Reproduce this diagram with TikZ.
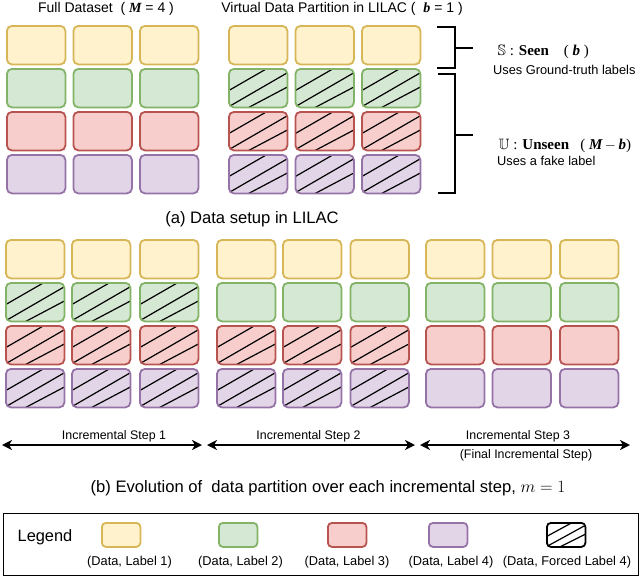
\documentclass[tikz,border=0pt]{standalone}
\usepackage{amssymb}
\usepackage{fontspec}
\setmainfont{Liberation Sans}
\newfontfamily\serf{Liberation Serif}
\usetikzlibrary{calc,arrows.meta}
\definecolor{fy}{HTML}{FFF2CC}\definecolor{dy}{HTML}{D6B656}
\definecolor{fg}{HTML}{D5E8D4}\definecolor{dg}{HTML}{82B366}
\definecolor{fr}{HTML}{F8CECC}\definecolor{dr}{HTML}{B85450}
\definecolor{fp}{HTML}{E1D5E7}\definecolor{dp}{HTML}{9673A6}
\tikzset{
  cell/.style={rectangle, rounded corners=5pt, anchor=north west, inner sep=0pt,
    minimum width=58.5pt, minimum height=38.5pt, line width=1.8pt},
  cy/.style={fill=fy, draw=dy}, cg/.style={fill=fg, draw=dg},
  cr/.style={fill=fr, draw=dr}, cp/.style={fill=fp, draw=dp},
  hatch/.style={path picture={
    \coordinate (hsw) at (path picture bounding box.south west);
    \coordinate (hse) at (path picture bounding box.south east);
    \coordinate (hnw) at (path picture bounding box.north west);
    \coordinate (hne) at (path picture bounding box.north east);
    \draw[black, line width=1.2pt]
      ($(hsw)!0.44!(hnw)$) -- ($(hnw)!0.64!(hne)$)
      ($(hsw)!0.02!(hnw)$) -- ($(hse)!0.90!(hne)$)
      ($(hsw)!0.34!(hse)$) -- ($(hse)!0.53!(hne)$);
  }},
  lcell/.style={rectangle, rounded corners=4pt, anchor=north west, inner sep=0pt,
    minimum width=38.5pt, minimum height=24pt, line width=1.8pt},
  bracket/.style={line width=1.3pt, black},
  steparrow/.style={line width=1.9pt, {Stealth[length=10pt,width=10pt,inset=3pt]}-{Stealth[length=10pt,width=10pt,inset=3pt]}},
  ttltxt/.style={anchor=base, inner sep=0pt, font=\fontsize{14}{16}\selectfont},
  captxt/.style={anchor=base, inner sep=0pt, font=\fontsize{16.6}{19}\selectfont},
  smalltxt/.style={anchor=base, inner sep=0pt, font=\fontsize{12.4}{14}\selectfont},
  legtxt/.style={anchor=base, inner sep=0pt, font=\fontsize{12.8}{14}\selectfont},
}
\begin{document}
\begin{tikzpicture}[x=1pt,y=-1pt]
\useasboundingbox (0,0) rectangle (640,576);
% titles
\node[ttltxt] (t1) at (106,12.7) {Full Dataset~~( {\serf\bfseries\itshape M} = 4 )};
\node[ttltxt] (t2) at (342,12.7) {Virtual Data Partition in LILAC (~ {\serf\bfseries\itshape b} = 1 )};
% (a) full dataset
\foreach \y/\c [count=\r] in {25/cy,68/cg,111/cr,154/cp}{
  \foreach \x [count=\k] in {6,72.5,139}{
    \node[cell,\c] (fa-\r-\k) at (\x,\y) {};
  }
}
% (a) virtual partition
\foreach \x [count=\k] in {228,294.5,361}{
  \node[cell,cy] (va-1-\k) at (\x,25) {};
  \node[cell,cg,hatch] (va-2-\k) at (\x,68) {};
  \node[cell,cr,hatch] (va-3-\k) at (\x,111) {};
  \node[cell,cp,hatch] (va-4-\k) at (\x,154) {};
}
% brackets
\coordinate (ba1) at (437,27); \coordinate (ba2) at (455,27);
\coordinate (ba3) at (455,68); \coordinate (ba4) at (437,68);
\coordinate (bam) at (455,48); \coordinate (bat) at (473,48);
\draw[bracket] (ba1) -- (ba2) -- (ba3) -- (ba4);
\draw[bracket] (bam) -- (bat);
\coordinate (bb1) at (438,74); \coordinate (bb2) at (455,74);
\coordinate (bb3) at (455,193); \coordinate (bb4) at (438,193);
\coordinate (bbm) at (455,135); \coordinate (bbt) at (473,135);
\draw[bracket] (bb1) -- (bb2) -- (bb3) -- (bb4);
\draw[bracket] (bbm) -- (bbt);
\node[anchor=base west, inner sep=0pt, font=\serf\fontsize{15}{17}\selectfont] (seen) at (497.5,55)
  {$\mathbb{S}$ : \textbf{Seen}\quad( {\bfseries\itshape b} )};
\node[anchor=base west, inner sep=0pt, font=\fontsize{12.8}{14}\selectfont] (seenu) at (493,74.3) {Uses Ground-truth labels};
\node[anchor=base west, inner sep=0pt, font=\serf\fontsize{15}{17}\selectfont] (unseen) at (498.5,149)
  {$\mathbb{U}$ : \textbf{Unseen}\enspace\ ( {\bfseries\itshape M}\,$-$\,{\bfseries\itshape b})};
\node[anchor=base west, inner sep=0pt, font=\fontsize{12.8}{14}\selectfont] (unseenu) at (497,165.7) {Uses a fake label};
\node[captxt] (capa) at (252,223.3) {(a) Data setup in LILAC};
% (b) evolution
\foreach \x [count=\k] in {5,71,139}{
  \node[cell,cy] (s1-1-\k) at (\x,239) {};
  \node[cell,cg,hatch] (s1-2-\k) at (\x,282) {};
  \node[cell,cr,hatch] (s1-3-\k) at (\x,325) {};
  \node[cell,cp,hatch] (s1-4-\k) at (\x,368) {};
}
\foreach \x [count=\k] in {216,282,349.5}{
  \node[cell,cy] (s2-1-\k) at (\x,239) {};
  \node[cell,cg] (s2-2-\k) at (\x,282) {};
  \node[cell,cr,hatch] (s2-3-\k) at (\x,325) {};
  \node[cell,cp,hatch] (s2-4-\k) at (\x,368) {};
}
\foreach \x [count=\k] in {425,491.5,559}{
  \node[cell,cy] (s3-1-\k) at (\x,239) {};
  \node[cell,cg] (s3-2-\k) at (\x,282) {};
  \node[cell,cr] (s3-3-\k) at (\x,325) {};
  \node[cell,cp] (s3-4-\k) at (\x,368) {};
}
% arrows
\coordinate (a1l) at (2,445); \coordinate (a1r) at (202,445);
\coordinate (a2l) at (207,445); \coordinate (a2r) at (415,445);
\coordinate (a3l) at (420,445); \coordinate (a3r) at (630,445);
\draw[steparrow] (a1l) -- (a1r);
\draw[steparrow] (a2l) -- (a2r);
\draw[steparrow] (a3l) -- (a3r);
\node[smalltxt] (st1) at (114,439.5) {Incremental Step 1};
\node[smalltxt] (st2) at (308.5,439.5) {Incremental Step 2};
\node[smalltxt] (st3) at (518,439.5) {Incremental Step 3};
\node[smalltxt] (st3f) at (526,458.5) {(Final Incremental Step)};
\node[captxt] (capb) at (328,492.7) {(b) Evolution of~ data partition over each incremental step, $m = 1$};
% legend
\node[draw=black, line width=1.3pt, rectangle, inner sep=0pt, anchor=north west,
  minimum width=634.5pt, minimum height=62pt] (legbox) at (3,512.5) {};
\node[anchor=base, inner sep=0pt, font=\fontsize{16.4}{19}\selectfont] (legt) at (45,541.7) {Legend};
\node[lcell,cy] (l1) at (101,522) {};
\node[lcell,cg] (l2) at (218,522) {};
\node[lcell,cr] (l3) at (327,522) {};
\node[lcell,cp] (l4) at (428,522) {};
\node[lcell,draw=black,fill=white,hatch] (l5) at (546,522) {};
\node[legtxt] (ll1) at (129.5,565) {(Data, Label 1)};
\node[legtxt] (ll2) at (240.5,565) {(Data, Label 2)};
\node[legtxt] (ll3) at (347,565) {(Data, Label 3)};
\node[legtxt] (ll4) at (451,565) {(Data, Label 4)};
\node[legtxt] (ll5) at (567,565) {(Data, Forced Label 4)};
\end{tikzpicture}
\end{document}
